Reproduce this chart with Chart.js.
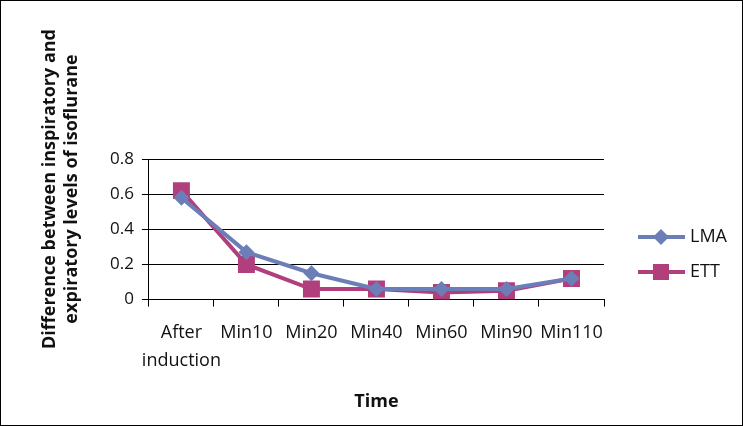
<!DOCTYPE html>
<html>
<head>
<meta charset="utf-8">
<script src="https://cdn.jsdelivr.net/npm/chart.js@4.4.0/dist/chart.umd.min.js"></script>
<style>
  html, body { margin: 0; padding: 0; background: #fff; }
  #wrap { width: 743px; height: 426px; position: relative; box-sizing: border-box; border: 1px solid #000; }
</style>
</head>
<body>
<div id="wrap"><canvas id="myChart"></canvas></div>
<script>
// Time points
const categories = [['After', 'induction'], 'Min10', 'Min20', 'Min40', 'Min60', 'Min90', 'Min110'];
// Difference between inspiratory and expiratory isoflurane
const lma_values = [0.58, 0.27, 0.15, 0.06, 0.06, 0.06, 0.12];
const ett_values = [0.62, 0.20, 0.06, 0.06, 0.04, 0.05, 0.12];
const y_ticks = [0, 0.2, 0.4, 0.6, 0.8];

const blue = '#6B7EB8';
const pink = '#B23F7D';
const fontFamily = '"Open Sans", "Liberation Sans", sans-serif';

// axis title (two lines, rotated) and Excel style legend drawn by hand
const extras = {
    id: 'extras',
    afterDraw(chart) {
        const ctx = chart.ctx;
        ctx.save();
        ctx.fillStyle = '#111';
        ctx.font = 'bold 18px ' + fontFamily;
        ctx.textAlign = 'center';
        ctx.textBaseline = 'middle';
        ctx.translate(60, 188);
        ctx.rotate(-Math.PI / 2);
        ctx.fillText('Difference between inspiratory and', 0, -11);
        ctx.fillText('expiratory levels of isoflurane', 0, 11);
        ctx.restore();

        // legend
        ctx.save();
        chart.data.datasets.forEach((ds, i) => {
            const y = 236 + i * 35;
            ctx.strokeStyle = ds.borderColor;
            ctx.lineWidth = 4;
            ctx.beginPath();
            ctx.moveTo(637, y);
            ctx.lineTo(684, y);
            ctx.stroke();
            ctx.fillStyle = ds.backgroundColor;
            if (ds.pointStyle === 'rect') {
                ctx.fillRect(652, y - 8, 16, 16);
            } else {
                ctx.beginPath();
                ctx.moveTo(660, y - 8);
                ctx.lineTo(668, y);
                ctx.lineTo(660, y + 8);
                ctx.lineTo(652, y);
                ctx.closePath();
                ctx.fill();
            }
            ctx.fillStyle = '#111';
            ctx.font = '18px ' + fontFamily;
            ctx.textAlign = 'left';
            ctx.textBaseline = 'middle';
            ctx.fillText(ds.label, 689, y);
        });
        ctx.restore();
    }
};

const ctx = document.getElementById('myChart').getContext('2d');
const chart = new Chart(ctx, {
    type: 'line',
    data: {
        labels: categories,
        datasets: [{
            label: 'LMA',
            data: lma_values,
            borderColor: blue,
            backgroundColor: blue,
            borderWidth: 4,
            pointStyle: 'rectRot',
            pointRadius: 8,
            pointHoverRadius: 8,
            pointBorderWidth: 0,
            tension: 0
        }, {
            label: 'ETT',
            data: ett_values,
            borderColor: pink,
            backgroundColor: pink,
            borderWidth: 4,
            pointStyle: 'rect',
            pointRadius: 12,
            pointHoverRadius: 12,
            pointBorderWidth: 0,
            tension: 0
        }]
    },
    options: {
        responsive: true,
        maintainAspectRatio: false,
        animation: false,
        layout: { padding: { left: 101, right: 138, top: 158, bottom: 12 } },
        plugins: {
            legend: { display: false },
            tooltip: { enabled: false }
        },
        scales: {
            x: {
                offset: true,
                grid: {
                    offset: true,
                    drawOnChartArea: false,
                    color: '#000',
                    tickLength: 7
                },
                border: { color: '#000', width: 1 },
                ticks: {
                    color: '#111',
                    font: { family: fontFamily, size: 18, lineHeight: 1.55 },
                    maxRotation: 0,
                    autoSkip: false,
                    padding: 12
                },
                title: {
                    display: true,
                    text: 'Time',
                    color: '#111',
                    font: { family: fontFamily, size: 18, weight: 'bold' },
                    padding: { top: 5, bottom: 0 }
                }
            },
            y: {
                min: 0,
                max: 0.8,
                afterBuildTicks: axis => { axis.ticks = y_ticks.map(v => ({ value: v })); },
                grid: { color: '#000', tickLength: 7, lineWidth: 1 },
                border: { color: '#000', width: 1 },
                ticks: {
                    color: '#111',
                    font: { family: fontFamily, size: 17 },
                    padding: 8,
                    callback: v => String(v)
                }
            }
        }
    },
    plugins: [extras]
});
</script>
</body>
</html>
